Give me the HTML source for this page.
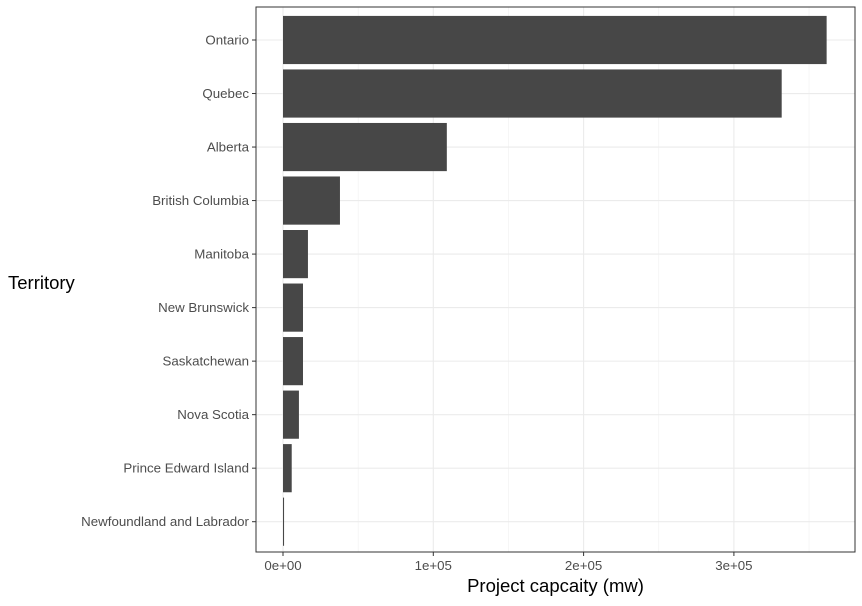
<!DOCTYPE html>
<html><head><meta charset="utf-8"><style>
body{margin:0;background:#fff;font-family:"Liberation Sans",sans-serif;}
</style></head><body>
<svg id="chart" width="862" height="601" xmlns="http://www.w3.org/2000/svg"></svg>
<script>
const categories=["Ontario","Quebec","Alberta","British Columbia","Manitoba","New Brunswick","Saskatchewan","Nova Scotia","Prince Edward Island","Newfoundland and Labrador"];
const values=[361700,331800,109000,37900,16600,13300,13300,10600,5800,700];
const xTicks=[0,100000,200000,300000];
const xTickLabels=["0e+00","1e+05","2e+05","3e+05"];
const svg=document.getElementById('chart');
const NS='http://www.w3.org/2000/svg';
const L=256,R=855,T=7,B=552;
const x0=283,pxPer=150.3/100000;
const xs=v=>x0+v*pxPer;
const step=(521.7-40)/9;
const ys=i=>40+i*step;
function mk(tag,attrs,name,txt){const e=document.createElementNS(NS,tag);for(const k in attrs)e.setAttribute(k,attrs[k]);


if(txt!==undefined)e.textContent=txt;svg.appendChild(e);return e;}
mk('rect',{x:L,y:T,width:R-L,height:B-T,fill:'#fff'},'plot-panel');
for(let i=0;i<xTicks.length;i++){const v=xTicks[i]+50000;const x=xs(v);if(x<R)mk('line',{x1:x,x2:x,y1:T,y2:B,stroke:'#f0f0f0','stroke-width':0.6},'minor-gridline');}
for(const v of xTicks){mk('line',{x1:xs(v),x2:xs(v),y1:T,y2:B,stroke:'#ebebeb','stroke-width':1.1},'major-gridline-x');}
categories.forEach((c,i)=>mk('line',{x1:L,x2:R,y1:ys(i),y2:ys(i),stroke:'#ebebeb','stroke-width':1.1},'major-gridline-y'));
const bw=step*0.9;
categories.forEach((c,i)=>{
 mk('rect',{x:xs(0),y:ys(i)-bw/2,width:Math.max(xs(values[i])-xs(0),0.8),height:bw,fill:'#474747'},'bar-'+c.toLowerCase().replace(/ /g,'-'));
 mk('line',{x1:L-4,x2:L,y1:ys(i),y2:ys(i),stroke:'#333','stroke-width':1},'y-tick');
 mk('text',{x:L-7,y:ys(i)+4.5,'text-anchor':'end','font-size':13.3,fill:'#4d4d4d'},'y-tick-label',c);
});
mk('rect',{x:L,y:T,width:R-L,height:B-T,fill:'none',stroke:'#333','stroke-width':1},'panel-border');
xTicks.forEach((v,i)=>{
 mk('line',{x1:xs(v),x2:xs(v),y1:B,y2:B+4,stroke:'#333','stroke-width':1},'x-tick');
 mk('text',{x:xs(v),y:B+18,'text-anchor':'middle','font-size':13.3,fill:'#4d4d4d'},'x-tick-label',xTickLabels[i]);
});
mk('text',{x:(L+R)/2,y:592,'text-anchor':'middle','font-size':18.5,fill:'#000'},'x-axis-title','Project capcaity (mw)');
mk('text',{x:8,y:289,'font-size':18.5,fill:'#000'},'y-axis-title','Territory');
</script>
</body></html>
